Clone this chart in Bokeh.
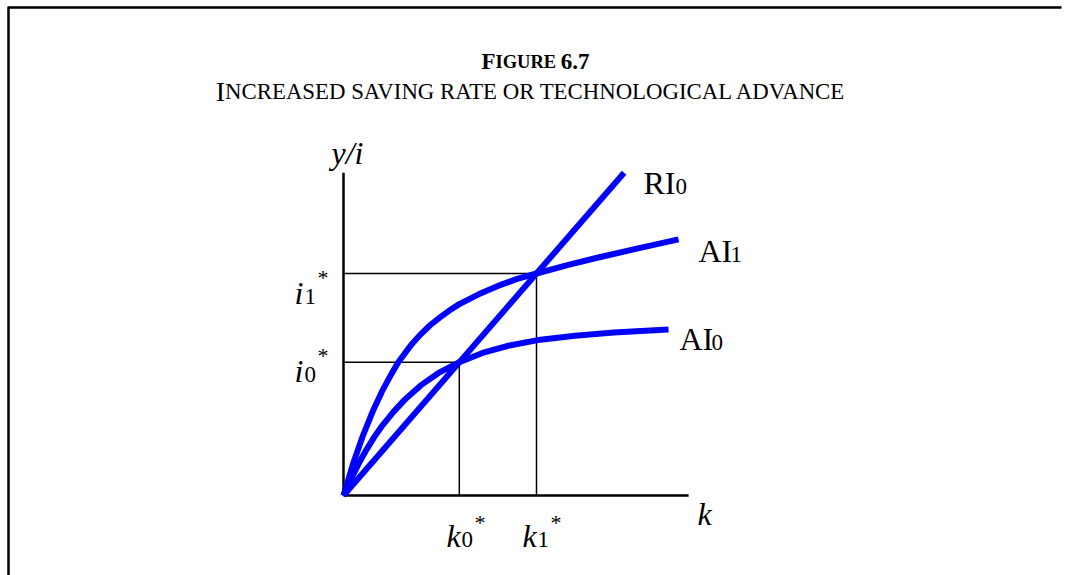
from bokeh.plotting import figure
from bokeh.models import Range1d, Label
from bokeh.core.properties import value
from bokeh.embed import file_html
from bokeh.resources import INLINE

# ---- Solow diagram: capital per worker k against output / investment per worker ----
# actual investment curve before the change (AI0)
k_ai0 = [0, 0.2, 0.4, 0.6, 0.8, 1.0, 1.3, 1.6, 2.0, 2.5, 3.0, 3.6, 4.3, 5.1, 6.0, 7.0, 8.42]
i_ai0 = [0, 0.38, 0.73, 1.04, 1.32, 1.57, 1.89, 2.17, 2.48, 2.78, 3.0, 3.21, 3.38, 3.51, 3.60, 3.67, 3.74]
# actual investment curve after the rise in saving / technology (AI1)
k_ai1 = [0, 0.25, 0.5, 0.75, 1.0, 1.25, 1.42, 1.75, 2.0, 2.25, 2.5, 2.75, 3.0, 3.5, 4.0, 4.5,
         5.0, 5.8, 6.6, 7.6, 8.68]
i_ai1 = [0, 0.72, 1.34, 1.88, 2.35, 2.75, 3.0, 3.39, 3.63, 3.84, 4.01, 4.17, 4.31, 4.53, 4.72, 4.88,
         5.0, 5.19, 5.36, 5.56, 5.77]
# required investment ray (RI0)
k_ri0 = [0, 7.27]
i_ri0 = [0, 7.27]
# steady states: (k0*, i0*) and (k1*, i1*)
k_eq = [3.0, 5.0]
i_eq = [3.0, 5.0]
# extent of the two axes
k_axis_end = 8.94
y_axis_end = 7.27

W, H = 1070, 575
X0, Y0 = 343, 495      # canvas pixel of the origin
KX, KY = 38.6, 44.4    # canvas pixels per unit on each axis


def dx(px):
    return (px - X0) / KX


def dy(py):
    return (Y0 - py) / KY


SERIF = "Liberation Serif"
BLUE = "#0000FF"

p = figure(width=W, height=H, output_backend="svg", toolbar_location=None,
           x_range=Range1d(dx(0), dx(W)), y_range=Range1d(dy(H), dy(0)),
           x_axis_type=None, y_axis_type=None, min_border=0)
p.outline_line_color = None
p.grid.visible = False
p.background_fill_color = "white"
p.border_fill_color = "white"

# page frame (top rule and left rule)
p.line([dx(7), dx(1061)], [dy(7), dy(7)], line_color="black", line_width=2.5)
p.line([dx(8), dx(8)], [dy(7), dy(H)], line_color="black", line_width=2.5)

# guide lines to each steady state
for k, i in zip(k_eq, i_eq):
    p.line([0, k], [i, i], line_color="black", line_width=1.5)
    p.line([k, k], [0, i], line_color="black", line_width=1.5)

# axes
p.line([0, 0], [0, y_axis_end], line_color="black", line_width=2.5)
p.line([0, k_axis_end], [0, 0], line_color="black", line_width=2.5)

# curves
p.line(k_ri0, i_ri0, line_color=BLUE, line_width=6, line_join="round")
p.line(k_ai1, i_ai1, line_color=BLUE, line_width=6, line_join="round")
p.line(k_ai0, i_ai0, line_color=BLUE, line_width=6, line_join="round")

# axis and curve labels: (text, left px, baseline px, size, style)
labels = [
    ("y/i", 331, 152, 32, "italic"),
    ("RI", 643, 182, 32, "normal"), ("0", 675, 186, 23, "normal"),
    ("AI", 698, 250, 32, "normal"), ("1", 730, 254, 23, "normal"),
    ("AI", 679, 338, 32, "normal"), ("0", 711, 342, 23, "normal"),
    ("k", 697, 513, 32, "italic"),
    ("k", 446, 535, 32, "italic"), ("0", 461, 539, 23, "normal"), ("*", 474, 522, 22, "normal"),
    ("k", 522, 535, 32, "italic"), ("1", 537, 539, 23, "normal"), ("*", 550, 522, 22, "normal"),
    ("i", 294, 292, 32, "italic"), ("1", 304, 296, 23, "normal"), ("*", 317, 277, 22, "normal"),
    ("i", 294, 370, 32, "italic"), ("0", 304, 374, 23, "normal"), ("*", 317, 355, 22, "normal"),
]
for txt, px, py, size, style in labels:
    p.text(x=[dx(px)], y=[dy(py)], text=[txt], text_font=value(SERIF),
           text_font_size=f"{size}px", text_font_style=style, text_color="black",
           text_align="left", text_baseline="alphabetic")

# ---- small-caps headings ----
TIMES = {" ": 250, ".": 250, "A": 722, "C": 667, "D": 722, "E": 611, "G": 722,
         "H": 722, "I": 333, "L": 611, "N": 722, "O": 722, "R": 667, "S": 556,
         "T": 611, "V": 722}
TIMES_BOLD = {" ": 250, ".": 250, "F": 611, "G": 778, "I": 389, "R": 722,
              "U": 722, "E": 667}
for d in (TIMES, TIMES_BOLD):
    for c in "0123456789":
        d[c] = 500


def small_caps(text, cx, baseline, full, small, widths, style):
    runs = []
    for ch in text:
        size = small if (ch.islower() or (ch == " " and runs and runs[-1][1] == small)) else full
        if runs and runs[-1][1] == size:
            runs[-1][0] += ch.upper()
        else:
            runs.append([ch.upper(), size])
    total = sum(widths[c] / 1000 * s for r, s in runs for c in r)
    x = cx - total / 2
    for r, s in runs:
        p.add_layout(Label(x=x, y=H - baseline, x_units="screen", y_units="screen",
                           text=r, text_font=SERIF, text_font_size=f"{s}px",
                           text_font_style=style, text_color="black",
                           text_align="left", text_baseline="alphabetic"))
        x += sum(widths[c] / 1000 * s for c in r)


small_caps("Figure 6.7", 535, 61, 23, 18.5, TIMES_BOLD, "bold")
small_caps("Increased saving rate or technological advance", 535, 91, 28, 22.8, TIMES, "normal")

with open("out.html", "w") as f:
    f.write(file_html(p, INLINE))
